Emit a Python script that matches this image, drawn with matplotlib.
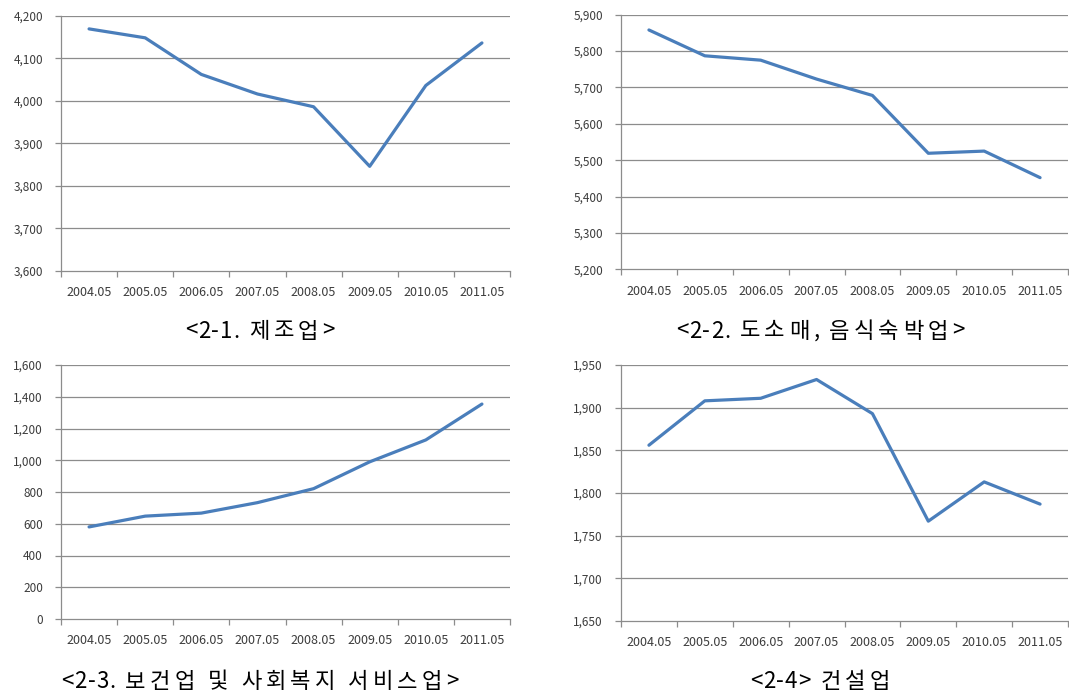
import matplotlib
matplotlib.use("Agg")
import matplotlib.pyplot as plt
import numpy as np
from matplotlib.font_manager import FontProperties
from matplotlib.ticker import FixedLocator, FuncFormatter

plt.rcParams['font.family'] = ['Noto Sans CJK KR', 'DejaVu Sans']

# 조사 시점 (매년 5월)
periods = ["2004.05", "2005.05", "2006.05", "2007.05",
           "2008.05", "2009.05", "2010.05", "2011.05"]

# 산업별 취업자 수 (천 명)
manufacturing = [4169, 4148, 4062, 4016, 3986, 3846, 4036, 4136]
retail_food = [5858, 5787, 5775, 5723, 5678, 5519, 5525, 5452]
health_welfare = [580, 648, 667, 733, 821, 990, 1128, 1354]
construction = [1856, 1908, 1911, 1933, 1893, 1767, 1813, 1787]

titles = ["<2-1. 제조업>", "<2-2. 도소매, 음식숙박업>",
          "<2-3. 보건업 및 사회복지 서비스업>", "<2-4> 건설업"]

W, H = 1069, 694
LINE = "#4a7ebb"
GRID = "#8c8c8c"
TEXT = "#3c3c3c"

# (값, y범위, 눈금 간격, 축 영역 px [left, top, right, bottom], 제목 중심 px)
panels = [
    (manufacturing, (3600, 4200), 100, (61, 15.7, 510, 271), (260, 331)),
    (retail_food, (5200, 5900), 100, (621, 14.7, 1068, 269.3), (820, 331)),
    (health_welfare, (0, 1600), 200, (61, 365, 510, 619), (260, 682)),
    (construction, (1650, 1950), 50, (621, 365, 1068, 621), (820, 682)),
]


def spaced_title(fig, text, cx, cy, size=16, track=4.0, track_ascii=0.8):
    """한글 사이를 벌려서 제목을 가운데 정렬로 그린다 (px 단위)."""
    renderer = fig.canvas.get_renderer()
    fp = FontProperties(family=['Noto Sans CJK KR', 'DejaVu Sans'], size=size)

    def width(s):
        return renderer.get_text_width_height_descent(s, fp, ismath=False)[0]

    base = width("xx")
    widths = [width("x" + ch + "x") - base for ch in text]
    gaps = [track if (ord(a) > 127 or ord(b) > 127) else track_ascii
            for a, b in zip(text, text[1:])]
    total = sum(widths) + sum(gaps)
    x = cx - total / 2
    for i, (ch, w) in enumerate(zip(text, widths)):
        fig.text(x / W, 1 - cy / H, ch, fontproperties=fp, color="black",
                 ha="left", va="center")
        x += w + (gaps[i] if i < len(gaps) else 0)


fig = plt.figure(figsize=(W / 100, H / 100), dpi=100)
fig.patch.set_facecolor("white")

xs = np.arange(len(periods)) + 0.5

for (values, (lo, hi), step, (l, t, r, b), (tx, ty)), title in zip(panels, titles):
    ax = fig.add_axes([l / W, 1 - b / H, (r - l) / W, (b - t) / H])
    ax.set_xlim(0, len(periods))
    ax.set_ylim(lo, hi)

    ax.plot(xs, values, color=LINE, lw=2.3, solid_joinstyle="round",
            solid_capstyle="round", zorder=3)

    # 가로 격자선
    yt = list(range(lo, hi + 1, step))
    ax.set_yticks(yt)
    ax.yaxis.set_major_formatter(FuncFormatter(lambda v, _: f"{int(v):,}"))
    for v in yt[1:]:
        ax.axhline(v, color=GRID, lw=0.9, zorder=1)

    # x축: 경계에 눈금, 가운데에 라벨
    ax.xaxis.set_major_locator(FixedLocator(range(len(periods) + 1)))
    ax.xaxis.set_minor_locator(FixedLocator(xs))
    ax.set_xticklabels([])
    ax.set_xticklabels(periods, minor=True)
    ax.tick_params(axis="x", which="major", length=4, width=0.9,
                   color=GRID, direction="out")
    ax.tick_params(axis="x", which="minor", length=0, pad=11,
                   labelsize=9, labelcolor=TEXT)
    ax.tick_params(axis="y", length=4, width=0.9, color=GRID,
                   direction="out", pad=9, labelsize=8.5, labelcolor=TEXT)

    for side in ("top", "right"):
        ax.spines[side].set_visible(False)
    for side in ("left", "bottom"):
        ax.spines[side].set_color(GRID)
        ax.spines[side].set_linewidth(0.9)

    spaced_title(fig, title, tx, ty)

fig.savefig("out.png", dpi=100, facecolor="white")
